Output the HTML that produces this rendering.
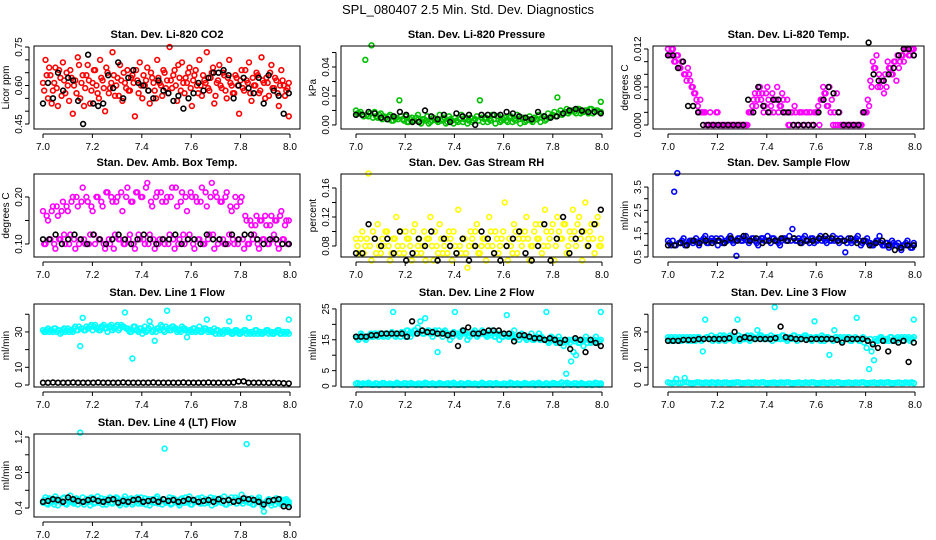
<!DOCTYPE html>
<html><head><meta charset="utf-8">
<style>
html,body{margin:0;padding:0;background:#fff;}
svg{display:block;font-family:"Liberation Sans",sans-serif;}
</style></head>
<body>
<svg id="chart" width="936" height="540" viewBox="0 0 936 540">
<text x="468" y="14" text-anchor="middle" font-size="13">SPL_080407  2.5 Min. Std. Dev. Diagnostics</text>
</svg>
<script>
// ---- data ----
const xTicks = [7.0, 7.2, 7.4, 7.6, 7.8, 8.0];
const xTickLabels = ["7.0","7.2","7.4","7.6","7.8","8.0"];

const co2Red = [0.61,0.70,0.55,0.64,0.58,0.67,0.52,0.63,0.69,0.57,0.60,0.66,0.49,0.62,0.71,0.55,0.64,0.59,0.68,0.53,0.61,0.66,0.57,0.70,0.62,0.50,0.65,0.59,0.73,0.56,0.63,0.68,0.54,0.61,0.66,0.58,0.64,0.48,0.62,0.69,0.55,0.60,0.67,0.53,0.63,0.58,0.70,0.61,0.56,0.65,0.62,0.75,0.59,0.66,0.54,0.63,0.69,0.57,0.61,0.67,0.52,0.64,0.60,0.70,0.56,0.62,0.73,0.58,0.65,0.53,0.61,0.68,0.59,0.64,0.55,0.70,0.60,0.57,0.63,0.49,0.66,0.58,0.62,0.69,0.54,0.60,0.65,0.57,0.71,0.61,0.63,0.56,0.68,0.59,0.62,0.52,0.66,0.60,0.58,0.48];
const co2Red2 = [0.58,0.64,0.67,0.53,0.61,0.59,0.66,0.56,0.62,0.65,0.54,0.63,0.60,0.57,0.68,0.61,0.52,0.64,0.62,0.58,0.66,0.60,0.55,0.63,0.59,0.67,0.57,0.61,0.64,0.60,0.56,0.62,0.65,0.59,0.58,0.63,0.61,0.66,0.57,0.60,0.64,0.62,0.58,0.65,0.61,0.55,0.63,0.60,0.66,0.59,0.57,0.62,0.64,0.60,0.68,0.58,0.61,0.63,0.65,0.59,0.62,0.66,0.57,0.60,0.64,0.61,0.59,0.63,0.67,0.56,0.62,0.60,0.65,0.58,0.63,0.61,0.57,0.64,0.60,0.62,0.59,0.66,0.61,0.57,0.63,0.60,0.64,0.58,0.62,0.55,0.61,0.65,0.59,0.63,0.57,0.60,0.62,0.56,0.59,0.61];
const co2Black = [0.53,0.61,0.55,0.65,0.58,0.63,0.62,0.54,0.45,0.72,0.53,0.52,0.53,0.64,0.59,0.69,0.55,0.63,0.66,0.61,0.60,0.58,0.55,0.62,0.58,0.57,0.54,0.56,0.51,0.55,0.57,0.61,0.58,0.63,0.65,0.65,0.66,0.64,0.55,0.60,0.63,0.59,0.57,0.63,0.53,0.64,0.58,0.56,0.49,0.57];

const presGreen = [0.010,0.008,0.007,0.045,0.006,0.055,0.009,0.005,0.008,0.006,0.004,0.007,0.003,0.005,0.017,0.004,0.006,0.002,0.005,0.003,0.007,0.001,0.004,0.006,0.002,0.005,0.003,0.007,0.004,0.001,0.006,0.003,0.005,0.002,0.007,0.004,0.001,0.005,0.003,0.006,0.017,0.002,0.005,0.004,0.007,0.001,0.006,0.003,0.005,0.002,0.006,0.004,0.007,0.001,0.005,0.003,0.006,0.002,0.004,0.007,0.005,0.003,0.008,0.006,0.009,0.019,0.010,0.008,0.011,0.009,0.010,0.008,0.011,0.009,0.010,0.008,0.011,0.009,0.010,0.016];
const presGreen2 = [0.008,0.009,0.006,0.007,0.008,0.005,0.006,0.007,0.004,0.005,0.006,0.003,0.005,0.004,0.006,0.003,0.002,0.004,0.003,0.005,0.002,0.004,0.003,0.001,0.003,0.004,0.002,0.003,0.005,0.002,0.004,0.001,0.003,0.004,0.002,0.005,0.003,0.002,0.004,0.003,0.005,0.004,0.002,0.003,0.004,0.006,0.002,0.004,0.003,0.005,0.002,0.003,0.004,0.005,0.002,0.004,0.003,0.005,0.004,0.002,0.006,0.004,0.005,0.007,0.006,0.008,0.007,0.009,0.008,0.010,0.009,0.011,0.008,0.009,0.010,0.011,0.008,0.010,0.009,0.009];
const presBlack = [0.007,0.007,0.009,0.008,0.005,0.004,0.006,0.009,0.007,0.002,0.002,0.010,0.006,0.004,0.007,0.002,0.008,0.006,0.007,0.000,0.007,0.007,0.007,0.007,0.009,0.008,0.006,0.005,0.004,0.009,0.006,0.005,0.006,0.008,0.010,0.011,0.010,0.009,0.009,0.008];

const tempMag = [0.012,0.011,0.012,0.010,0.011,0.009,0.010,0.008,0.009,0.007,0.006,0.005,0.003,0.004,0.002,0.002,0,0.002,0,0,0.002,0,0,0,0,0,0,0,0,0,0,0,0,0.002,0.003,0.005,0.004,0.006,0.005,0.003,0.006,0.002,0.005,0.004,0.006,0.003,0.005,0.002,0.004,0,0.002,0.003,0,0.002,0.002,0,0.002,0.002,0,0.002,0.002,0,0.004,0.005,0.003,0.006,0.004,0.002,0.005,0.002,0,0,0,0,0,0,0,0,0,0.002,0.002,0.003,0.006,0.009,0.011,0.008,0.007,0.005,0.006,0.009,0.008,0.010,0.007,0.009,0.011,0.010,0.012,0.011,0.012,0.012];
const tempMag2 = [0.011,0.012,0.010,0.011,0.009,0.010,0.008,0.007,0.008,0.006,0.005,0.004,0.002,0.002,0.002,0,0,0,0,0.002,0,0,0,0,0,0,0,0,0,0,0,0,0.002,0.002,0.004,0.003,0.005,0.004,0.002,0.005,0.004,0.003,0.002,0.004,0.002,0.003,0.004,0.002,0,0.002,0,0.002,0,0.002,0,0.002,0,0.002,0,0.002,0.003,0.004,0.006,0.005,0.003,0.002,0,0,0,0,0,0,0,0,0,0,0,0,0.002,0.002,0.004,0.007,0.010,0.009,0.006,0.006,0.007,0.008,0.010,0.009,0.008,0.010,0.011,0.010,0.011,0.012,0.012,0.011,0.012,0.011];
const tempBlack = [0.011,0.011,0.009,0.010,0.003,0.003,0.002,0,0,0,0,0,0,0,0,0,0.004,0.002,0.006,0.003,0.002,0.004,0.004,0.002,0.002,0,0,0,0,0,0.002,0.004,0.006,0.005,0.002,0,0,0,0,0.002,0.013,0.008,0.007,0.007,0.008,0.009,0.011,0.012,0.012,0.011];

const boxMag = [0.17,0.10,0.15,0.11,0.18,0.09,0.16,0.11,0.19,0.10,0.17,0.12,0.20,0.09,0.18,0.11,0.22,0.10,0.19,0.12,0.17,0.10,0.20,0.11,0.18,0.09,0.21,0.10,0.19,0.12,0.20,0.11,0.17,0.10,0.22,0.12,0.19,0.09,0.21,0.11,0.20,0.10,0.23,0.12,0.18,0.09,0.21,0.11,0.19,0.10,0.20,0.12,0.22,0.09,0.18,0.11,0.21,0.10,0.17,0.12,0.20,0.09,0.19,0.11,0.22,0.10,0.18,0.12,0.23,0.09,0.20,0.11,0.19,0.10,0.21,0.12,0.17,0.10,0.18,0.11,0.20,0.09,0.15,0.10,0.14,0.12,0.16,0.09,0.15,0.11,0.14,0.10,0.16,0.12,0.15,0.09,0.17,0.11,0.15,0.10];
const boxMag2 = [0.10,0.16,0.11,0.17,0.10,0.18,0.11,0.17,0.12,0.18,0.10,0.19,0.11,0.20,0.10,0.19,0.11,0.20,0.10,0.18,0.12,0.20,0.11,0.19,0.10,0.21,0.11,0.20,0.09,0.19,0.11,0.21,0.10,0.20,0.11,0.19,0.10,0.21,0.12,0.20,0.11,0.22,0.10,0.19,0.11,0.20,0.10,0.21,0.11,0.19,0.10,0.20,0.11,0.22,0.10,0.19,0.12,0.20,0.11,0.21,0.10,0.20,0.11,0.19,0.10,0.21,0.11,0.20,0.12,0.21,0.10,0.19,0.11,0.20,0.10,0.18,0.11,0.20,0.10,0.19,0.11,0.16,0.10,0.15,0.11,0.14,0.10,0.15,0.11,0.16,0.10,0.14,0.11,0.15,0.10,0.16,0.11,0.14,0.10,0.15];
const boxBlack = [0.11,0.11,0.12,0.10,0.11,0.12,0.11,0.10,0.12,0.11,0.10,0.11,0.12,0.11,0.10,0.11,0.12,0.11,0.10,0.11,0.11,0.12,0.10,0.11,0.11,0.10,0.12,0.11,0.11,0.10,0.12,0.11,0.12,0.12,0.11,0.10,0.11,0.11,0.10,0.10];

const rhYellow = [0.09,0.07,0.10,0.08,0.18,0.06,0.09,0.11,0.07,0.08,0.10,0.06,0.09,0.12,0.07,0.08,0.10,0.09,0.06,0.11,0.08,0.07,0.10,0.09,0.12,0.06,0.08,0.11,0.07,0.09,0.10,0.06,0.08,0.13,0.07,0.09,0.05,0.10,0.08,0.11,0.07,0.09,0.06,0.12,0.08,0.10,0.07,0.09,0.14,0.06,0.08,0.11,0.07,0.10,0.09,0.12,0.06,0.08,0.11,0.09,0.07,0.13,0.08,0.10,0.06,0.12,0.09,0.11,0.07,0.10,0.13,0.08,0.12,0.06,0.14,0.09,0.11,0.07,0.12,0.08];
const rhYellow2 = [0.08,0.09,0.07,0.09,0.08,0.10,0.07,0.08,0.09,0.10,0.08,0.07,0.09,0.08,0.10,0.07,0.09,0.08,0.10,0.07,0.09,0.08,0.06,0.09,0.08,0.10,0.07,0.09,0.08,0.07,0.09,0.10,0.07,0.08,0.09,0.07,0.08,0.09,0.10,0.07,0.08,0.09,0.08,0.10,0.07,0.09,0.08,0.10,0.08,0.09,0.07,0.10,0.09,0.08,0.10,0.09,0.08,0.10,0.09,0.11,0.08,0.10,0.09,0.11,0.08,0.10,0.09,0.11,0.08,0.09,0.10,0.11,0.09,0.10,0.08,0.10,0.09,0.11,0.08,0.09];
const rhBlack = [0.07,0.07,0.11,0.09,0.08,0.09,0.07,0.10,0.06,0.07,0.09,0.08,0.10,0.06,0.09,0.08,0.07,0.09,0.06,0.08,0.10,0.09,0.07,0.06,0.08,0.09,0.10,0.07,0.06,0.08,0.11,0.06,0.09,0.12,0.07,0.09,0.10,0.08,0.11,0.13];

const flowBlue = [1.2,1.0,3.3,4.1,1.1,1.3,1.0,1.2,1.1,1.3,1.0,1.2,1.4,1.1,1.3,1.2,1.0,1.3,1.1,1.2,1.4,1.1,0.55,1.3,1.2,1.4,1.1,1.3,1.2,1.0,1.3,1.2,1.4,1.1,1.3,1.2,1.0,1.3,1.2,1.4,1.7,1.2,1.3,1.1,1.4,1.2,1.3,1.1,1.2,1.4,1.3,1.1,1.2,1.4,1.3,1.1,1.2,0.7,1.3,1.1,1.2,1.4,1.0,1.2,1.3,1.1,1.0,1.2,1.4,1.0,1.1,0.9,1.2,1.0,1.1,0.8,1.0,1.2,0.9,1.1];
const flowBlue2 = [1.1,1.2,1.0,1.1,1.2,1.0,1.1,1.2,1.2,1.1,1.2,1.3,1.1,1.2,1.2,1.3,1.2,1.1,1.2,1.3,1.2,1.2,1.3,1.2,1.3,1.2,1.2,1.3,1.1,1.2,1.3,1.2,1.2,1.3,1.2,1.1,1.2,1.3,1.2,1.2,1.3,1.2,1.2,1.3,1.2,1.1,1.3,1.2,1.3,1.2,1.2,1.3,1.2,1.2,1.2,1.3,1.2,1.1,1.2,1.2,1.3,1.2,1.1,1.2,1.1,1.0,1.1,1.2,1.1,1.0,1.1,1.0,1.1,1.0,0.9,1.0,1.1,1.0,0.9,1.0];
const flowBlack = [1.0,1.0,1.1,1.0,1.2,1.1,1.2,1.1,1.2,1.1,1.3,1.2,1.4,1.2,1.3,1.1,1.2,1.2,1.3,1.2,1.3,1.1,1.2,1.2,1.3,1.4,1.3,1.2,1.2,1.3,1.1,1.2,1.0,1.1,1.2,1.0,0.8,0.9,1.0,1.0];

const line1Cyan = [31,30,32,31,30,32,31,29,31,30,32,31,30,33,31,22,38,31,32,33,31,34,32,31,33,32,30,33,31,32,34,32,33,41,32,30,15,33,31,32,29,33,31,36,30,25,32,31,33,30,42,31,33,32,30,31,33,32,27,31,30,32,31,33,30,32,37,31,30,32,31,29,30,31,30,36,29,30,31,29,30,31,29,38,30,29,31,30,29,30,31,29,30,29,30,31,29,30,30,37];
const line1Cyan2 = [30,31,30,31,32,30,31,30,32,31,30,31,32,31,33,32,31,33,32,34,33,32,31,33,34,32,33,34,32,33,31,34,33,32,31,30,33,31,30,32,31,30,32,33,31,30,32,34,31,33,32,31,33,32,31,30,32,31,30,31,32,30,31,30,31,32,30,31,30,29,31,30,29,30,31,30,29,31,30,29,30,31,30,29,30,31,29,30,29,30,31,30,29,30,31,29,30,29,30,29];
const line1Black = [1.3,1.3,1.4,1.3,1.3,1.3,1.4,1.3,1.3,1.3,1.3,1.4,1.3,1.3,1.3,1.3,1.4,1.3,1.3,1.3,1.3,1.3,1.4,1.3,1.3,1.3,1.3,1.3,1.4,1.3,1.3,1.3,1.3,1.4,1.3,1.3,1.3,1.3,1.4,2.0,2.1,1.3,1.3,1.3,1.3,1.2,1.3,1.2,1.0,0.9];

const line2Cyan = [16,15,17,16,15,16,17,16,17,16,17,16,17,16,17,24,16,17,16,17,16,18,16,17,18,19,21,17,22,18,17,16,18,11,17,16,18,17,15,16,24,17,16,18,17,15,16,17,18,16,17,18,17,16,17,18,16,17,15,16,17,23,16,17,18,16,15,17,16,15,16,17,15,16,17,16,15,24,14,16,15,14,16,15,13,4,15,8,11,10,14,15,13,16,15,14,15,16,14,24];
const line2Cyan2 = [15.5,16,16.5,15.5,16,16.5,16,17,16.5,17,16.5,17,17,16.5,17.5,17,16.5,17,17.5,17,18,17,17.5,18,17,17.5,18,17,17.5,18,17,17.5,17,18,17,17.5,17,16.5,17,17.5,17,16.5,17,17.5,17,16.5,17,17.5,17,16.5,17,17,16.5,17,16.5,17,16,16.5,17,16,16.5,16,16.5,16,15.5,16,16.5,16,15.5,16,15.5,15,16,15.5,15,15.5,15,14.5,15,15.5,14.5,15,14.5,14,15,14.5,14,15,14.5,15,14,14.5,15,14,15,14.5,15,14,14.5,15];
const line2Low = [0.8,0.5,0.9,0.6,0.7,0.4,0.8,0.6,0.9,0.5,0.7,0.6,0.8,0.5,0.9,0.6,0.7,0.4,0.8,0.6,0.9,0.5,0.7,0.6,0.8,0.5,0.9,0.6,0.7,0.4,0.8,0.6,0.9,0.5,0.7,0.6,0.8,0.5,0.9,0.6,0.7,0.4,0.8,0.6,0.9,0.5,0.7,0.6,0.8,0.5,0.9,0.6,0.7,0.4,0.8,0.6,0.9,0.5,1.2,0.6,0.8,0.5,0.9,0.6,0.7,0.4,0.8,0.6,0.9,0.5];
const line2Low2 = [1.0,0.3,0.6,1.1,0.4,0.9,0.3,1.0,0.5,0.8,0.3,1.1,0.4,0.9,0.3,1.0,0.5,0.8,0.3,1.1,0.4,0.9,0.3,1.0,0.5,0.8,0.3,1.1,0.4,0.9,0.3,1.0,0.5,0.8,0.3,1.1,0.4,0.9,0.3,1.0,0.5,0.8,0.3,1.1,0.4,0.9,0.3,1.0,0.5,0.8,0.3,1.1,0.4,0.9,0.3,1.0,0.5,0.8,0.3,1.1,0.4,0.9,0.3,1.0,0.5,0.8,0.3,1.1,0.4,0.9];
const line2Black = [16,16,16,16.5,16.5,17,17,17,17,17,16,21,17,18,17.5,17.5,17,17,16.5,17,13,18,19,17,17,17.5,18,18,18,17,17,14.5,16.5,16.5,16,15.5,15.5,15,15.5,15,14,15,12,15.5,15,11,15,14,13];

const line3Cyan = [27,25,26,27,26,25,27,26,25,27,26,25,27,26,19,37,27,26,25,27,26,28,27,25,26,28,27,26,37,25,27,26,28,25,27,26,31,28,27,26,27,26,25,44,27,26,28,26,25,27,26,28,25,27,26,28,27,26,25,36,27,26,28,25,27,17,26,31,27,26,25,27,26,27,25,26,38,25,26,24,21,9,19,14,25,26,27,25,26,25,27,26,25,26,27,25,26,27,26,37];
const line3Cyan2 = [26,27,25,26,27,25,26,27,26,25,27,26,27,25,26,27,26,28,26,27,25,26,28,27,26,27,25,26,28,27,26,27,26,28,27,26,27,28,26,27,26,28,27,26,27,26,28,27,26,27,28,26,27,26,27,28,26,27,26,27,26,25,27,26,27,26,25,27,26,27,25,26,27,25,26,27,26,25,27,26,25,26,24,26,25,27,26,25,26,27,25,26,27,26,25,27,26,25,26,27];
const line3Low = [1.5,1.0,3.5,1.2,4.0,1.3,1.0,1.5,1.2,1.4,1.0,1.3,1.5,1.1,1.4,1.0,1.2,1.5,1.1,1.3,1.0,1.4,1.2,1.5,1.0,1.3,1.1,1.4,1.2,1.5,1.0,1.3,1.1,1.4,1.2,1.5,1.0,1.3,1.1,1.4,1.2,1.5,1.0,1.3,1.1,1.4,1.2,1.5,1.0,1.3,1.1,1.4,1.2,1.5,1.0,1.3,1.1,1.4,1.2,1.1];
const line3Low2 = [1.2,1.4,1.1,1.3,1.5,1.0,1.2,1.4,1.1,1.3,1.5,1.0,1.2,1.4,1.1,1.3,1.5,1.0,1.2,1.4,1.1,1.3,1.5,1.0,1.2,1.4,1.1,1.3,1.5,1.0,1.2,1.4,1.1,1.3,1.5,1.0,1.2,1.4,1.1,1.3,1.5,1.0,1.2,1.4,1.1,1.3,1.5,1.0,1.2,1.4,1.1,1.3,1.5,1.0,1.2,1.4,1.1,1.3,1.5,1.0];
const line3Black = [25,25,25,25.5,25.5,25.5,26,26,26,26,26,26,26.5,30,26,27,26.5,26,26,26,26,26.5,33,27,26.5,26,26,25.5,26,26,26,26,26,25.5,24,26,26,26,26,25,23,21,25,19,25,24,25,13,24];

const line4Cyan = [0.46,0.52,0.44,0.50,0.47,0.53,0.43,0.49,0.51,0.45,0.48,0.54,0.46,0.50,0.44,1.25,0.52,0.47,0.49,0.43,0.51,0.46,0.53,0.48,0.44,0.50,0.47,0.52,0.45,0.49,0.51,0.43,0.48,0.53,0.46,0.50,0.44,0.49,0.52,0.47,0.45,0.51,0.48,0.43,0.50,0.46,0.53,0.49,0.44,1.07,0.47,0.52,0.45,0.50,0.48,0.43,0.51,0.46,0.49,0.53,0.44,0.48,0.50,0.46,0.52,0.45,0.49,0.47,0.43,0.51,0.48,0.50,0.46,0.53,0.44,0.49,0.52,0.47,0.45,0.50,0.55,0.48,1.12,0.46,0.51,0.44,0.49,0.52,0.45,0.36,0.47,0.50,0.43,0.48,0.51,0.46,0.44,0.49,0.50,0.47];
const line4Cyan2 = [0.49,0.45,0.51,0.47,0.44,0.50,0.48,0.46,0.52,0.44,0.50,0.47,0.45,0.51,0.48,0.46,0.44,0.50,0.47,0.52,0.45,0.49,0.46,0.51,0.48,0.44,0.50,0.46,0.49,0.52,0.45,0.48,0.50,0.44,0.47,0.51,0.46,0.49,0.45,0.52,0.48,0.44,0.50,0.47,0.46,0.51,0.45,0.48,0.50,0.46,0.49,0.44,0.51,0.47,0.45,0.50,0.48,0.52,0.46,0.44,0.49,0.47,0.51,0.45,0.48,0.50,0.46,0.52,0.49,0.45,0.47,0.51,0.48,0.44,0.50,0.46,0.48,0.52,0.50,0.47,0.45,0.51,0.49,0.46,0.44,0.48,0.50,0.47,0.42,0.45,0.49,0.46,0.48,0.44,0.47,0.50,0.46,0.45,0.48,0.44];
const line4Black = [0.47,0.48,0.50,0.49,0.47,0.52,0.50,0.48,0.47,0.49,0.50,0.48,0.47,0.49,0.50,0.46,0.48,0.47,0.49,0.50,0.47,0.48,0.49,0.47,0.50,0.48,0.49,0.47,0.48,0.50,0.49,0.47,0.48,0.49,0.47,0.50,0.48,0.49,0.47,0.48,0.51,0.50,0.49,0.47,0.44,0.48,0.49,0.50,0.42,0.41];

// ---- layout ----
const colLeft=[34,341,653], colRight=[300,612,924], colX7=[43,356,668], colX8=[290,602,915];
const rowTop=[46,174,304,434], rowBot=[129,257,387,517];

const panels = [
 {key:"co2",title:"Stan. Dev. Li-820 CO2",ylab:"Licor ppm",r:0,c:0,ymin:0.4305,ymax:0.754,ticks:[0.45,0.50,0.55,0.60,0.65,0.70,0.75],labels:{"0.45":"0.45","0.6":"0.60","0.75":"0.75"},series:[[co2Red,"#ff0000"],[co2Red2,"#ff0000",1],[co2Black,"#000"]]},
 {key:"pressure",title:"Stan. Dev. Li-820 Pressure",ylab:"kPa",r:0,c:1,ymin:-0.0028,ymax:0.0545,ticks:[0,0.01,0.02,0.03,0.04,0.05],labels:{"0":"0.00","0.02":"0.02","0.04":"0.04"},series:[[presGreen,"#00c000"],[presGreen2,"#00c000",1],[presBlack,"#000"]]},
 {key:"temp",title:"Stan. Dev. Li-820 Temp.",ylab:"degrees C",r:0,c:2,ymin:-0.00063,ymax:0.01247,ticks:[0,0.002,0.004,0.006,0.008,0.010,0.012],labels:{"0":"0.000","0.006":"0.006","0.012":"0.012"},series:[[tempMag,"#ff00ff"],[tempMag2,"#ff00ff",1],[tempBlack,"#000"]]},
 {key:"boxtemp",title:"Stan. Dev. Amb. Box Temp.",ylab:"degrees C",r:1,c:0,ymin:0.0723,ymax:0.2489,ticks:[0.10,0.15,0.20],labels:{"0.1":"0.10","0.2":"0.20"},series:[[boxMag,"#ff00ff"],[boxMag2,"#ff00ff",1],[boxBlack,"#000"]]},
 {key:"rh",title:"Stan. Dev. Gas Stream RH",ylab:"percent",r:1,c:1,ymin:0.0648,ymax:0.1793,ticks:[0.08,0.10,0.12,0.14,0.16],labels:{"0.08":"0.08","0.12":"0.12","0.16":"0.16"},series:[[rhYellow,"#ffff00"],[rhYellow2,"#ffff00",1],[rhBlack,"#000"]]},
 {key:"sampleflow",title:"Stan. Dev. Sample Flow",ylab:"ml/min",r:1,c:2,ymin:0.5,ymax:4.06,ticks:[0.5,1,1.5,2,2.5,3,3.5],labels:{"0.5":"0.5","1.5":"1.5","2.5":"2.5","3.5":"3.5"},series:[[flowBlue,"#0000ff"],[flowBlue2,"#0000ff",1],[flowBlack,"#000"]]},
 {key:"line1",title:"Stan. Dev. Line 1 Flow",ylab:"ml/min",r:2,c:0,ymin:-1.13,ymax:45.8,ticks:[0,10,20,30,40],labels:{"0":"0","10":"10","30":"30"},series:[[line1Cyan,"#00ffff"],[line1Cyan2,"#00ffff",1],[line1Black,"#000"]]},
 {key:"line2",title:"Stan. Dev. Line 2 Flow",ylab:"ml/min",r:2,c:1,ymin:-0.3,ymax:26.6,ticks:[0,5,10,15,20,25],labels:{"0":"0","5":"5","15":"15","25":"25"},series:[[line2Low,"#00ffff"],[line2Low2,"#00ffff",1],[line2Cyan,"#00ffff"],[line2Cyan2,"#00ffff",1],[line2Black,"#000"]]},
 {key:"line3",title:"Stan. Dev. Line 3 Flow",ylab:"ml/min",r:2,c:2,ymin:-1.13,ymax:45.8,ticks:[0,10,20,30,40],labels:{"0":"0","10":"10","30":"30"},series:[[line3Low,"#00ffff"],[line3Low2,"#00ffff",1],[line3Cyan,"#00ffff"],[line3Cyan2,"#00ffff",1],[line3Black,"#000"]]},
 {key:"line4",title:"Stan. Dev. Line 4 (LT) Flow",ylab:"ml/min",r:3,c:0,ymin:0.299,ymax:1.234,ticks:[0.4,0.6,0.8,1.0,1.2],labels:{"0.4":"0.4","0.8":"0.8","1.2":"1.2"},series:[[line4Cyan,"#00ffff"],[line4Cyan2,"#00ffff",1],[line4Black,"#000"]]}
];

const NS="http://www.w3.org/2000/svg";
const svg=document.getElementById("chart");
function mk(tag,attrs,parent){const e=document.createElementNS(NS,tag);for(const k in attrs)e.setAttribute(k,attrs[k]);(parent||svg).appendChild(e);return e;}

panels.forEach(p=>{
  const L=colLeft[p.c],R=colRight[p.c],T=rowTop[p.r],B=rowBot[p.r];
  const x7=colX7[p.c],x8=colX8[p.c];
  const sx=v=>x7+(v-7)*(x8-x7);
  const sy=v=>B-(v-p.ymin)/(p.ymax-p.ymin)*(B-T);
  const g=mk("g",{});
  
  
  const title=mk("text",{x:(L+R)/2,y:T-8,"text-anchor":"middle","font-size":"11","font-weight":"bold"},g);
  title.textContent=p.title;
  
  
  p.series.forEach((s,si)=>{
    const vals=s[0],col=s[1],off=s[2]?0.5:0;
    const sg=mk("g",{fill:"none",stroke:col,"stroke-width":"1.6"},g);
    
    
    const n=vals.length;
    vals.forEach((v,i)=>{
      const xv=7+0.995*Math.min(i+off,n-1)/(n-1);
      const c=mk("circle",{cx:sx(xv).toFixed(1),cy:sy(v).toFixed(1),r:"2.4"},sg);
      
      
    });
  });
  const box=mk("rect",{x:L,y:T,width:R-L,height:B-T,fill:"none",stroke:"#000","stroke-width":"1"},g);
  
  
  const xa=mk("g",{stroke:"#000","stroke-width":"1"},g);
  
  
  mk("line",{x1:sx(7),x2:sx(8),y1:B+5,y2:B+5},xa);
  xTicks.forEach((t,i)=>{
    mk("line",{x1:sx(t),x2:sx(t),y1:B+5,y2:B+9},xa);
    const tl=mk("text",{x:sx(t),y:B+21,"text-anchor":"middle","font-size":"10",stroke:"none",fill:"#000"},xa);
    tl.textContent=xTickLabels[i];
    
    
  });
  const ya=mk("g",{stroke:"#000","stroke-width":"1"},g);
  
  
  const tv=p.ticks.filter(t=>t>=p.ymin-1e-9&&t<=p.ymax+1e-9);
  mk("line",{x1:L-5,x2:L-5,y1:sy(tv[0]),y2:sy(tv[tv.length-1])},ya);
  tv.forEach(t=>{
    const y=sy(t);
    mk("line",{x1:L-9,x2:L-5,y1:y,y2:y},ya);
    const lab=p.labels[String(+t.toFixed(4))];
    if(lab){
      const tl=mk("text",{x:L-12,y:y,"text-anchor":"middle","font-size":"10",stroke:"none",fill:"#000",transform:`rotate(-90 ${L-12} ${y})`},ya);
      tl.textContent=lab;
      
      
    }
  });
  const yl=mk("text",{x:L-25,y:(T+B)/2,"text-anchor":"middle","font-size":"10",transform:`rotate(-90 ${L-25} ${(T+B)/2})`},g);
  yl.textContent=p.ylab;
  
  
});
</script>
</body></html>
